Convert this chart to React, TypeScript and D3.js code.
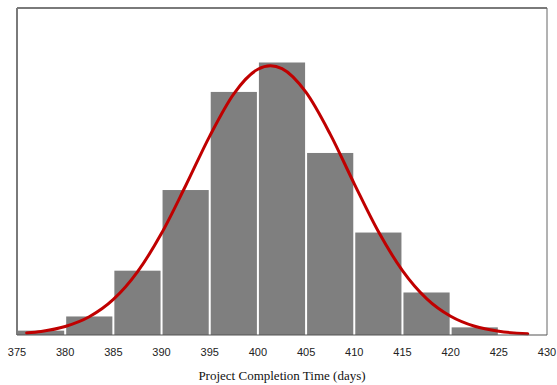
import React from "react";
import * as d3 from "d3";

const binStarts = [375, 380, 385, 390, 395, 400, 405, 410, 415, 420];
const binWidth = 5;
const percentages = [0.4, 1.7, 5.9, 13.3, 22.3, 25.0, 16.7, 9.4, 3.9, 0.7];
const fitX = [376, 377.5, 380, 382.5, 385, 387.5, 390, 392.5, 395, 397.5, 400, 401.3, 402.5, 405, 407.5, 410, 412.5, 415, 417.5, 420, 422.5, 425, 428];
const fitY = [0.19, 0.33, 0.78, 1.67, 3.26, 5.79, 9.33, 13.69, 18.25, 22.13, 24.38, 24.7, 24.43, 22.25, 18.43, 13.87, 9.49, 5.91, 3.34, 1.72, 0.8, 0.34, 0.11];
const xTicks = [375, 380, 385, 390, 395, 400, 405, 410, 415, 420, 425, 430];
const xTitle = "Project Completion Time (days)";

export default function App() {
  const W = 557, H = 385;
  const left = 17, right = 547, top = 8, bottom = 335;
  const x = d3.scaleLinear().domain([375, 430]).range([left, right]);
  const y = d3.scaleLinear().domain([0, 30]).range([bottom, top]);
  const line = d3
    .line<number>()
    .x((_, i) => x(fitX[i]))
    .y((d) => y(d))
    .curve(d3.curveMonotoneX);

  return (
    <svg width={W} height={H} style={{ position: "absolute", left: 0, top: 0, background: "#fff" }}>
      {binStarts.map((b, i) => (
        <rect
          key={b}
          x={x(b) + (i === 0 ? 0 : 1)}
          y={y(percentages[i])}
          width={x(b + binWidth) - x(b) - (i === 0 ? 1 : 2)}
          height={bottom - y(percentages[i])}
          fill="#7f7f7f"
        />
      ))}
      <path d={line(fitY) || ""} fill="none" stroke="#c00000" strokeWidth={3} strokeLinecap="round" />
      <line x1={left} y1={top} x2={right} y2={top} stroke="#7a7a7a" strokeWidth={2} />
      <line x1={left} y1={top} x2={left} y2={bottom} stroke="#7a7a7a" strokeWidth={2} />
      <line x1={right} y1={top} x2={right} y2={bottom} stroke="#666" strokeWidth={1} />
      <line x1={left} y1={bottom} x2={right} y2={bottom} stroke="#555" strokeWidth={1.2} />
      {xTicks.map((t) => (
        <text
          key={t}
          x={x(t)}
          y={356}
          textAnchor="middle"
          fontFamily="'Liberation Sans', Arial, sans-serif"
          fontSize={11}
          fill="#222"
        >
          {t}
        </text>
      ))}
      <text
        x={282}
        y={380}
        textAnchor="middle"
        fontFamily="'Liberation Serif', 'Times New Roman', serif"
        fontSize={13}
        fill="#111"
      >
        {xTitle}
      </text>
    </svg>
  );
}
